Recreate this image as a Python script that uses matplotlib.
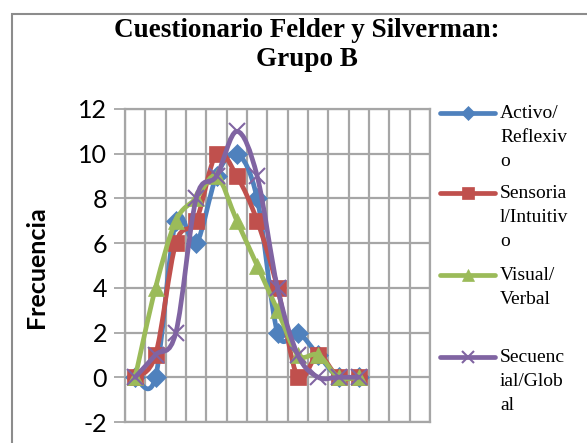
import matplotlib.pyplot as plt
import numpy as np
from matplotlib.path import Path
from matplotlib.patches import PathPatch, Rectangle
from matplotlib.lines import Line2D

plt.rcParams["axes.unicode_minus"] = False

# values (categories 1..12 of 15)
n_cats = 15
activo = [0, 0, 7, 6, 9, 10, 8, 2, 2, 1, 0, 0]
sensorial = [0, 1, 6, 7, 10, 9, 7, 4, 0, 1, 0, 0]
visual = [0, 4, 7, 8, 9, 7, 5, 3, 1, 1, 0, 0]
secuencial = [0, 1, 2, 8, 9, 11, 9, 4, 1, 0, 0, 0]

labels = ["Activo/\nReflexiv\no", "Sensoria\nl/Intuitiv\no",
          "Visual/\nVerbal", "Secuenc\nial/Glob\nal"]
colors = ["#4F81BD", "#C0504D", "#9BBB59", "#8064A2"]
markers = ["D", "s", "^", "x"]
msizes = [10, 12, 11, 12]
series = [activo, sensorial, visual, secuencial]


def smooth_path(x, y):
    # Excel style smoothed line: cubic bezier between neighbouring points
    pts = np.column_stack([x, y]).astype(float)
    verts = [pts[0]]
    codes = [Path.MOVETO]
    n = len(pts)
    for i in range(n - 1):
        p0 = pts[i - 1] if i > 0 else pts[i]
        p1 = pts[i]
        p2 = pts[i + 1]
        p3 = pts[i + 2] if i + 2 < n else pts[i + 1]
        c1 = p1 + (p2 - p0) / 6.0
        c2 = p2 - (p3 - p1) / 6.0
        verts += [c1, c2, p2]
        codes += [Path.CURVE4] * 3
    return Path(verts, codes)


W, H = 587, 443
fig = plt.figure(figsize=(W / 100, H / 100), dpi=100)
ax = fig.add_axes([125 / W, 1 - 422 / H, 305 / W, 313 / H])

grid_c = "#A6A6A6"
for k, (vals, col, mk, ms) in enumerate(zip(series, colors, markers, msizes)):
    x = np.arange(1, len(vals) + 1)
    ax.add_patch(PathPatch(smooth_path(x, vals), fill=False, edgecolor=col,
                           lw=3.4, capstyle="round", joinstyle="round", zorder=3 + k))
    ax.plot(x, vals, linestyle="none", marker=mk, ms=ms, color=col,
            mec=col, mew=1.5 if mk == "x" else 0.5, zorder=3 + k)

ax.set_xlim(0.5, n_cats + 0.5)
ax.set_ylim(-2, 12)
ax.set_yticks(range(-2, 13, 2))
ax.set_xticks(np.arange(0.5, n_cats + 1, 1))
ax.set_xticklabels([])
ax.tick_params(axis="x", length=0)
ax.tick_params(axis="y", length=8, width=1.3, color=grid_c, direction="out",
               labelsize=18, pad=5)
for t in ax.get_yticklabels():
    t.set_fontfamily("Lato")
ax.grid(True, color=grid_c, lw=1.6)
ax.set_axisbelow(True)
for s in ax.spines.values():
    s.set_color(grid_c)
    s.set_linewidth(1.6)

fig.text(37 / W, 1 - 267 / H, "Frecuencia", rotation=90, ha="center", va="center",
         fontsize=18, fontweight="bold", fontfamily="Lato")

fig.text(307 / W, 1 - 45 / H, "Cuestionario Felder y Silverman:\nGrupo B",
         ha="center", va="center", fontsize=19.5, fontweight="bold",
         fontfamily="Liberation Serif", linespacing=1.2)

# legend drawn by hand to keep the wrapped labels
leg_y = [113, 193, 275, 357]
for lab, col, mk, ms, yy in zip(labels, colors, markers, msizes, leg_y):
    fy = 1 - yy / H
    fig.add_artist(Line2D([440 / W, 495 / W], [fy, fy], color=col, lw=3.4,
                          solid_capstyle="round"))
    fig.add_artist(Line2D([467.5 / W], [fy], color=col, marker=mk, ms=ms * 0.75,
                          mec=col, mew=1.5 if mk == "x" else 0.5))
    fig.text(500 / W, fy + 8 / H, lab, ha="left", va="top", fontsize=14,
             fontfamily="Liberation Serif", linespacing=1.55)

# chart frame (cut off at right and bottom)
fig.add_artist(Rectangle((12 / W, -0.1), 1.2, 1 - 14 / H + 0.1,
                         transform=fig.transFigure, fill=False,
                         edgecolor="#8C8C8C", lw=1.5))

fig.savefig("out.png", dpi=100)
